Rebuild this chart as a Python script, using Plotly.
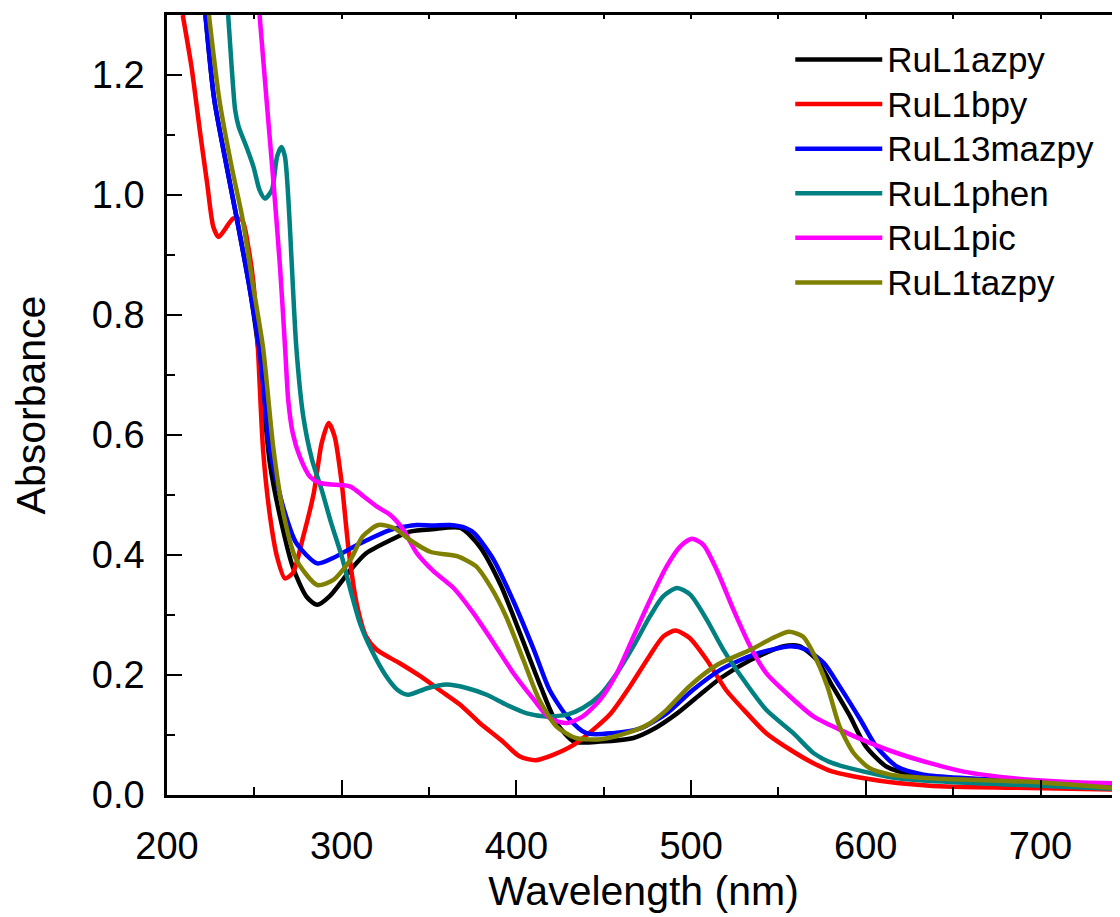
import plotly.graph_objects as go

# ---------------- data ----------------
names = ["RuL1azpy", "RuL1bpy", "RuL13mazpy", "RuL1phen", "RuL1pic", "RuL1tazpy"]
colors = ["#000000", "#FF0000", "#0000FF", "#008080", "#FF00FF", "#808000"]

azpy_x = [222, 227, 234, 240, 247, 252, 259, 265, 272, 280, 286, 293, 305, 314, 328, 339, 352, 368,
          379, 391, 402, 414, 423, 433, 448, 467, 478, 492, 505, 517, 534, 553, 562, 572, 581, 591,
          600, 612, 627, 650, 700, 746]
azpy_y = [1.30, 1.16, 1.05, 0.96, 0.85, 0.75, 0.55, 0.46, 0.38, 0.33, 0.317, 0.331, 0.375, 0.403,
          0.425, 0.439, 0.443, 0.445, 0.414, 0.35, 0.27, 0.18, 0.12, 0.089, 0.089, 0.095, 0.109,
          0.136, 0.167, 0.195, 0.225, 0.248, 0.248, 0.225, 0.181, 0.131, 0.081, 0.047, 0.034,
          0.028, 0.022, 0.014]

bpy_x = [209, 214, 219, 223, 226.5, 229.5, 233, 238, 243, 246.5, 249.5, 252, 255, 259, 263, 267.5,
         272, 278, 284, 288.5, 292.5, 296, 300, 304, 308.5, 314, 320, 333, 345, 356, 368, 379, 391,
         402, 411, 421, 433, 444, 454, 465, 476, 484, 491, 499, 509, 520, 532, 543, 557, 570, 581,
         599, 618, 646, 685, 746]
bpy_y = [1.30, 1.214, 1.103, 1.019, 0.947, 0.93, 0.942, 0.961, 0.958, 0.914, 0.853, 0.747, 0.575,
         0.464, 0.397, 0.361, 0.37, 0.431, 0.503, 0.586, 0.62, 0.597, 0.52, 0.408, 0.32, 0.264,
         0.242, 0.22, 0.198, 0.175, 0.15, 0.12, 0.092, 0.064, 0.058, 0.067, 0.084, 0.109, 0.136,
         0.181, 0.231, 0.264, 0.274, 0.262, 0.225, 0.175, 0.136, 0.103, 0.075, 0.053, 0.039,
         0.028, 0.02, 0.014, 0.012, 0.009]

mazpy_x = [222, 227, 234, 240, 247, 253, 259, 267, 274, 286, 295, 309, 328, 343, 352, 362, 371, 376,
           387, 398, 410, 419, 429, 440, 455, 471, 486, 501, 517, 536, 557, 566, 576, 585, 597, 606,
           618, 633, 658, 700, 746]
mazpy_y = [1.30, 1.16, 1.05, 0.96, 0.85, 0.74, 0.575, 0.475, 0.42, 0.386, 0.395, 0.417, 0.442, 0.45,
           0.449, 0.45, 0.445, 0.436, 0.392, 0.325, 0.242, 0.175, 0.131, 0.103, 0.103, 0.111, 0.136,
           0.175, 0.209, 0.234, 0.248, 0.242, 0.22, 0.181, 0.125, 0.081, 0.047, 0.034, 0.028,
           0.022, 0.017]

phen_x = [235, 237, 239, 241, 245.5, 249.5, 253, 256, 260, 263, 265.5, 267.5, 269.5, 271.5, 274, 278,
          283, 288.5, 294, 300, 305, 310.5, 317, 325, 332, 338, 349, 360, 372, 383, 394.5, 406, 417,
          429, 438, 448, 457.5, 467, 476.5, 484, 492, 499.5, 509, 518.5, 530, 543, 558.5, 570, 581,
          599, 618, 646, 685, 746]
phen_y = [1.30, 1.214, 1.142, 1.114, 1.08, 1.047, 1.008, 0.994, 1.008, 1.064, 1.08, 1.064, 0.992,
          0.88, 0.747, 0.631, 0.559, 0.509, 0.453, 0.398, 0.342, 0.286, 0.242, 0.2, 0.175, 0.167,
          0.178, 0.184, 0.178, 0.167, 0.15, 0.136, 0.131, 0.134, 0.145, 0.167, 0.203, 0.248, 0.298,
          0.331, 0.345, 0.334, 0.292, 0.242, 0.192, 0.142, 0.103, 0.07, 0.053, 0.039, 0.028, 0.022,
          0.017, 0.01]

pic_x = [253, 257, 261, 264.7, 267.6, 269.4, 272, 276, 282, 287.6, 297, 305, 312.4, 320, 327.7, 335.3,
         343, 352.5, 364, 375.4, 387, 398.3, 410, 419, 429, 438, 448, 457.5, 467, 476.5, 486, 493.7,
         500.4, 507, 514.7, 524.2, 533.8, 543, 556.7, 570, 585, 600.5, 617.7, 636.8, 656, 684.5,
         713, 746]
pic_y = [1.30, 1.158, 1.019, 0.88, 0.745, 0.658, 0.603, 0.564, 0.53, 0.52, 0.517, 0.514, 0.498,
         0.481, 0.467, 0.442, 0.403, 0.373, 0.345, 0.303, 0.253, 0.203, 0.159, 0.128, 0.12, 0.131,
         0.159, 0.203, 0.264, 0.325, 0.381, 0.414, 0.427, 0.417, 0.375, 0.309, 0.248, 0.203, 0.164,
         0.131, 0.109, 0.089, 0.07, 0.053, 0.039, 0.028, 0.022, 0.019]

tazpy_x = [224, 230, 237, 243, 249, 255, 261, 267, 274, 286, 295, 305, 312, 321, 330, 339, 351, 366,
           377, 385, 394, 404, 413, 423, 434, 448, 463, 475, 486, 499, 515, 534, 547, 556, 564, 570,
           578, 585, 593, 602, 614, 637, 665, 700, 746]
tazpy_y = [1.30, 1.158, 1.047, 0.964, 0.853, 0.745, 0.575, 0.464, 0.392, 0.35, 0.358, 0.392, 0.431,
           0.45, 0.445, 0.425, 0.405, 0.398, 0.381, 0.348, 0.298, 0.225, 0.159, 0.114, 0.095, 0.093,
           0.103, 0.117, 0.142, 0.181, 0.217, 0.242, 0.262, 0.272, 0.264, 0.236, 0.181, 0.114, 0.07,
           0.045, 0.034, 0.028, 0.025, 0.021, 0.011]

xs = [azpy_x, bpy_x, mazpy_x, phen_x, pic_x, tazpy_x]
ys = [azpy_y, bpy_y, mazpy_y, phen_y, pic_y, tazpy_y]

x_range = [200, 745.5]
y_range = [0, 1.3]

FONT = "Liberation Sans, Arial, sans-serif"
LEGEND_TEXT_PX = 35

fig = go.Figure()
for n, c, x, y in zip(names, colors, xs, ys):
    fig.add_trace(go.Scatter(x=x, y=y, name=f'<span style="font-size:{LEGEND_TEXT_PX}px">{n}</span>',
                             mode="lines",
                             line=dict(color=c, width=4.5, shape="spline", smoothing=0.7)))

# empty trace so the top (mirror) axis is drawn
fig.add_trace(go.Scatter(x=[], y=[], xaxis="x2", showlegend=False, hoverinfo="skip"))

axis_common = dict(showgrid=False, zeroline=False, showline=True, linecolor="black", linewidth=2.5,
                   ticks="inside", tickcolor="black", tickwidth=2, ticklen=15,
                   tickfont=dict(family=FONT, size=38, color="black"))

fig.update_layout(
    width=1112, height=909,
    margin=dict(l=159, r=0, t=7, b=122),
    paper_bgcolor="white", plot_bgcolor="white",
    font=dict(family=FONT, color="black"),
    xaxis=dict(range=x_range, dtick=100, tick0=200,
               minor=dict(dtick=50, ticks="inside", ticklen=8, tickwidth=2, tickcolor="black"),
               title=dict(text="Wavelength (nm)", font=dict(family=FONT, size=41), standoff=10),
               ticklabelstandoff=16,
               **axis_common),
    xaxis2=dict(range=x_range, overlaying="x", side="top", anchor="y", showgrid=False,
                zeroline=False, showline=True, linecolor="black", linewidth=2.5,
                ticks="inside", ticklen=4, tickwidth=2, tickcolor="black",
                dtick=50, tick0=200, showticklabels=False),
    yaxis=dict(range=y_range, dtick=0.2, tick0=0, tickformat=".1f",
               minor=dict(dtick=0.1, ticks="inside", ticklen=8, tickwidth=2, tickcolor="black"),
               title=dict(text="Absorbance", font=dict(family=FONT, size=41), standoff=37),
               ticklabelstandoff=12,
               **axis_common),
    legend=dict(x=0.654, y=0.978, xanchor="left", yanchor="top",
                font=dict(family=FONT, size=32, color="black"),
                bgcolor="rgba(0,0,0,0)", borderwidth=0, itemwidth=87, tracegroupgap=0),
    showlegend=True,
)

fig.write_html("out.html")
